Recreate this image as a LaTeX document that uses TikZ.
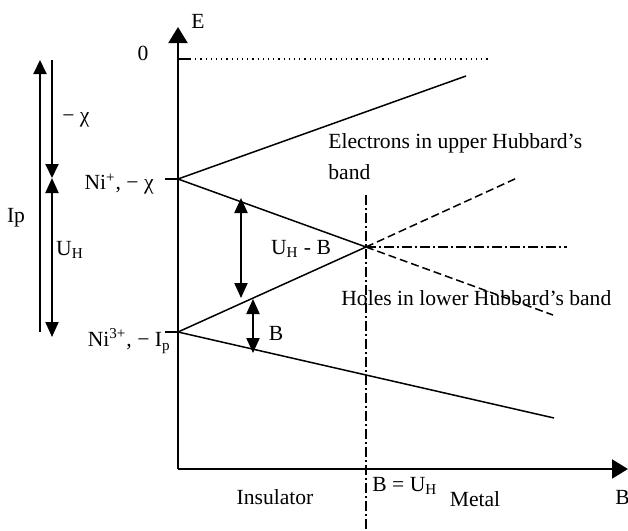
\documentclass[tikz,border=0pt]{standalone}
\usepackage{fontspec}
\setmainfont{Liberation Serif}
\usetikzlibrary{arrows.meta}

\begin{document}
\begin{tikzpicture}[x=0.5pt, y=-0.5pt,
    every node/.style={font=\fontsize{10.8}{12}\selectfont, inner sep=0pt},
    axis/.style={line width=1pt, -{Triangle[length=8pt,width=9.5pt]}},
    band/.style={line width=0.75pt},
    gap/.style={line width=1pt, {Triangle[length=7.5pt,width=6.5pt]}-{Triangle[length=7.5pt,width=6.5pt]}},
    dashdot/.style={line width=0.75pt, dash pattern=on 5pt off 1.5pt on 1pt off 1.5pt}]
    \useasboundingbox (0,0) rectangle (628,531);
    % axes
    \coordinate (O) at (178,469);
    \coordinate (Etop) at (178,27);
    \coordinate (Bend) at (628,469);
    \draw[axis] (O) -- (Etop);
    \draw[axis] (O) -- (Bend);
    \node (E) at (198,21) {E};
    \node[anchor=west] (Bax) at (615,497) {B};
    % zero level
    \coordinate (z0) at (178,59);
    \coordinate (z1) at (190,59);
    \coordinate (z2) at (490,59);
    \node (zero) at (143,53) {0};
    \draw[band] (z0) -- (z1);
    \draw[dotted, line width=0.6pt] (z1) -- (z2);
    % levels
    \coordinate (ni1) at (178,179);
    \coordinate (ni1t) at (165,179);
    \coordinate (ni3) at (178,332);
    \coordinate (ni3t) at (165,332);
    \draw[band] (ni1t) -- (ni1);
    \draw[band] (ni3t) -- (ni3);
    \node[anchor=east] (lni1) at (154,184) {Ni\textsuperscript{+}, − χ};
    \node[anchor=east] (lni3) at (171,341) {Ni\textsuperscript{3+}, − I\textsubscript{p}};
    % bands
    \coordinate (up) at (466,76);
    \coordinate (X) at (366,247);
    \coordinate (dn) at (554,418);
    \coordinate (dashU) at (517,178);
    \coordinate (dashL) at (553,315);
    \coordinate (dd) at (567,247);
    \coordinate (vtop) at (366,195);
    \coordinate (vbot) at (366,531);
    \draw[band] (ni1) -- (up);
    \draw[band] (ni1) -- (X);
    \draw[band] (ni3) -- (X);
    \draw[band] (ni3) -- (dn);
    \draw[band, dash pattern=on 4pt off 2pt] (X) -- (dashU);
    \draw[band, dash pattern=on 4pt off 2pt] (X) -- (dashL);
    \draw[dashdot] (X) -- (dd);
    \draw[dashdot] (vtop) -- (vbot);
    % gaps
    \coordinate (g1) at (241,198);
    \coordinate (g2) at (241,298);
    \coordinate (g3) at (253,299);
    \coordinate (g4) at (253,353);
    \draw[gap] (g1) -- (g2);
    \draw[gap] (g3) -- (g4);
    \node (lgap) at (301,249) {U\textsubscript{H} - B};
    \node (lB) at (276,333) {B};
    % left scale
    \coordinate (ip0) at (40,332);
    \coordinate (ip1) at (40,60);
    \coordinate (c0) at (52,60);
    \coordinate (c1) at (52,178);
    \coordinate (u1) at (52,337);
    \draw[line width=1pt, -{Triangle[length=7pt,width=6.5pt]}] (ip0) -- (ip1);
    \draw[line width=1pt, -{Triangle[length=7pt,width=6.5pt]}] (c0) -- (c1);
    \draw[gap] (c1) -- (u1);
    \node (lchi) at (76,120) {− χ};
    \node (lU) at (70,250) {U\textsubscript{H}};
    \node (lIp) at (16,218) {Ip};
    % texts
    \node[anchor=west] (el1) at (328,143) {Electrons in upper Hubbard’s};
    \node[anchor=west] (el2) at (328,172) {band};
    \node[anchor=west] (ho) at (341,298) {Holes in lower Hubbard’s band};
    \node (ins) at (275,497) {Insulator};
    \node[anchor=west] (crit) at (372,486) {B = U\textsubscript{H}};
    \node (met) at (475,499) {Metal};
\end{tikzpicture}
\end{document}
